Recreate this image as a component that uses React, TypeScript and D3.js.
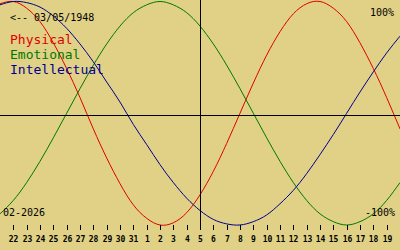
import React from "react";
import * as d3 from "d3";

const birthLabel = "<-- 03/05/1948";
const monthLabel = "02-2026";
const topLabel = "100%";
const bottomLabel = "-100%";

// tick labels, one per day (u = 1..29)
const dayLabels = [
  "22", "23", "24", "25", "26", "27", "28", "29", "30", "31",
  "1", "2", "3", "4", "5", "6", "7", "8", "9", "10",
  "11", "12", "13", "14", "15", "16", "17", "18", "19",
];
const todayIndex = 15;

// series values sampled per day, u = 0..30 (x edge to edge)
const physical = [
  0.98, 1.0, 0.94, 0.82, 0.63, 0.4, 0.14, -0.14, -0.4, -0.63, -0.82,
  -0.94, -1.0, -0.98, -0.89, -0.73, -0.52, -0.27, 0.0, 0.27, 0.52,
  0.73, 0.89, 0.98, 1.0, 0.94, 0.82, 0.63, 0.4, 0.14, -0.14,
];
const emotional = [
  -0.9, -0.78, -0.62, -0.43, -0.22, 0.0, 0.22, 0.43, 0.62, 0.78, 0.9,
  0.97, 1.0, 0.97, 0.9, 0.78, 0.62, 0.43, 0.22, 0.0, -0.22,
  -0.43, -0.62, -0.78, -0.9, -0.97, -1.0, -0.97, -0.9, -0.78, -0.62,
];
const intellectual = [
  0.97, 1.0, 0.99, 0.95, 0.87, 0.76, 0.62, 0.46, 0.28, 0.1, -0.1,
  -0.28, -0.46, -0.62, -0.76, -0.87, -0.95, -0.99, -1.0, -0.97, -0.91,
  -0.81, -0.69, -0.54, -0.37, -0.19, 0.0, 0.19, 0.37, 0.54, 0.69,
];

const seriesNames = ["Physical", "Emotional", "Intellectual"];
const seriesData = [physical, emotional, intellectual];
const seriesColors = ["#e00000", "#007800", "#000090"];

const W = 400;
const H = 250;
const BG = "#e0d186";
const MONO = "'DejaVu Sans Mono', monospace";

export default function App() {
  const x = d3.scaleLinear().domain([0, 30]).range([0, W]);
  const y = d3.scaleLinear().domain([-1, 1]).range([225, 1.5]);
  const midY = 115;
  const line = d3
    .line<number>()
    .x((_, i) => x(i))
    .y((v) => y(v))
    .curve(d3.curveNatural);

  return (
    <div style={{ position: "fixed", left: 0, top: 0 }}>
      <svg width={W} height={H} style={{ display: "block" }}>
        <rect width={W} height={H} fill={BG} />
        {seriesData.map((s, i) => (
          <path key={i} d={line(s) || ""} fill="none" stroke={seriesColors[i]} strokeWidth={1} />
        ))}
        <line x1={0} x2={W} y1={midY + 0.5} y2={midY + 0.5} stroke="#000" strokeWidth={1} shapeRendering="crispEdges" />
        <line x1={x(todayIndex) + 0.5} x2={x(todayIndex) + 0.5} y1={0} y2={230} stroke="#000" strokeWidth={1} shapeRendering="crispEdges" />
        {dayLabels.map((lab, i) => {
          const xx = Math.round(x(i + 1)) + 0.5;
          return (
            <g key={i}>
              <line x1={xx} x2={xx} y1={225} y2={230} stroke="#000" strokeWidth={1} shapeRendering="crispEdges" />
              <text x={xx} y={242} textAnchor="middle" fontFamily={MONO} fontWeight="bold" fontSize={8} fill="#000">
                {lab}
              </text>
            </g>
          );
        })}
        <text x={10} y={21} fontFamily={MONO} fontSize={10} fill="#000">{birthLabel}</text>
        {seriesNames.map((n, i) => (
          <text key={n} x={10} y={43.5 + i * 15} fontFamily={MONO} fontSize={13} fill={seriesColors[i]}>
            {n}
          </text>
        ))}
        <text x={394} y={16} textAnchor="end" fontFamily={MONO} fontSize={10} fill="#000">{topLabel}</text>
        <text x={395} y={216} textAnchor="end" fontFamily={MONO} fontSize={10} fill="#000">{bottomLabel}</text>
        <text x={3} y={216} fontFamily={MONO} fontSize={10} fill="#000">{monthLabel}</text>
      </svg>
    </div>
  );
}
